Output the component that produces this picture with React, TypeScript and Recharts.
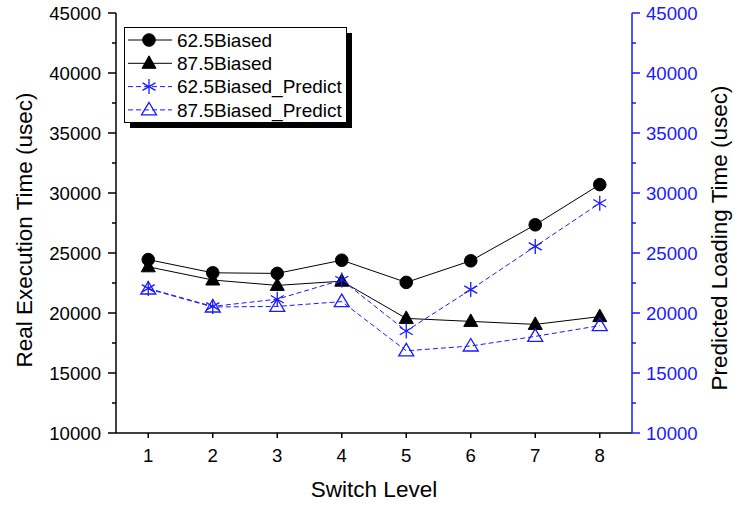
import React from 'react';
import { LineChart, Line, XAxis, YAxis, Legend } from 'recharts';

// Switch levels on the x axis
const levels = [1, 2, 3, 4, 5, 6, 7, 8];

// Measured execution times (usec)
const biased625 = [24450, 23350, 23300, 24400, 22550, 24350, 27350, 30700];
const biased875 = [23850, 22750, 22300, 22650, 19550, 19300, 19050, 19700];

// Predicted loading times (usec)
const predict625 = [22050, 20550, 21150, 22750, 18500, 21950, 25550, 29150];
const predict875 = [22000, 20500, 20550, 20950, 16850, 17250, 18050, 18950];

// Y axis ticks: labelled every 5000, minor marks every 2500
const yTicks = [10000, 12500, 15000, 17500, 20000, 22500, 25000, 27500, 30000, 32500, 35000, 37500, 40000, 42500, 45000];
const yLabelStep = 5000;

const seriesNames = ['62.5Biased', '87.5Biased', '62.5Biased_Predict', '87.5Biased_Predict'];

const data = levels.map((lv, i) => ({
  level: lv,
  b625: biased625[i],
  b875: biased875[i],
  p625: predict625[i],
  p875: predict875[i],
}));

const FONT = '"Liberation Sans", Arial, Helvetica, sans-serif';
const BLUE = '#1a1aff';
const TM = 10;
const TICK_FS = 18.6;
const TITLE_FS = 22.5;

// ---- markers ----
const Circle = ({ cx, cy }: any) => <circle cx={cx} cy={cy} r={6.3} fill="#000" stroke="#000" strokeWidth={1} />;
const FilledTri = ({ cx, cy }: any) => (
  <polygon points={`${cx},${cy - 7.5} ${cx - 7},${cy + 5} ${cx + 7},${cy + 5}`} fill="#000" stroke="#000" strokeWidth={1} />
);
const OpenTri = ({ cx, cy }: any) => (
  <polygon points={`${cx},${cy - 7.5} ${cx - 7.5},${cy + 5} ${cx + 7.5},${cy + 5}`} fill="none" stroke={BLUE} strokeWidth={1.3} />
);
const Star = ({ cx, cy }: any) => {
  const r = 7.5;
  const dx = r * Math.cos(Math.PI / 6);
  const dy = r * Math.sin(Math.PI / 6);
  return (
    <g stroke={BLUE} strokeWidth={1.3}>
      <line x1={cx} y1={cy - r} x2={cx} y2={cy + r} />
      <line x1={cx - dx} y1={cy - dy} x2={cx + dx} y2={cy + dy} />
      <line x1={cx - dx} y1={cy + dy} x2={cx + dx} y2={cy - dy} />
    </g>
  );
};

const dotFn = (M: any) => (p: any) => <M key={`${p.dataKey}-${p.index}`} cx={p.cx} cy={p.cy} />;

// ---- axis ticks ----
const LeftTick = (p: any) => {
  const ax = p.x + TM;
  const major = p.payload.value % yLabelStep === 0;
  return (
    <g>
      <line x1={ax} x2={ax - (major ? 8 : 4)} y1={p.y} y2={p.y} stroke="#000" strokeWidth={1.5} />
      {major && (
        <text x={ax - 15} y={p.y} dy="0.36em" textAnchor="end" fontSize={TICK_FS} fontFamily={FONT} fill="#000">
          {p.payload.value}
        </text>
      )}
    </g>
  );
};

const RightTick = (p: any) => {
  const ax = p.x - TM;
  const major = p.payload.value % yLabelStep === 0;
  return (
    <g>
      <line x1={ax} x2={ax + (major ? 8 : 4)} y1={p.y} y2={p.y} stroke={BLUE} strokeWidth={1.5} />
      {major && (
        <text x={ax + 14} y={p.y} dy="0.36em" textAnchor="start" fontSize={TICK_FS} fontFamily={FONT} fill={BLUE}>
          {p.payload.value}
        </text>
      )}
    </g>
  );
};

const BottomTick = (p: any) => {
  const ay = p.y - TM;
  return (
    <g>
      <line x1={p.x} x2={p.x} y1={ay} y2={ay + 5} stroke="#000" strokeWidth={1.5} />
      <text x={p.x} y={ay + 22} dy="0.36em" textAnchor="middle" fontSize={TICK_FS} fontFamily={FONT} fill="#000">
        {p.payload.value}
      </text>
    </g>
  );
};

const TopTick = (p: any) => {
  const ay = p.y + TM;
  return <line x1={p.x} x2={p.x} y1={ay} y2={ay + 5} stroke="#000" strokeWidth={1.5} />;
};

// ---- legend ----
const legendMarkers = [Circle, FilledTri, Star, OpenTri];
const legendColors = ['#000', '#000', BLUE, BLUE];
const legendDash = [undefined, undefined, '5 3', '5 3'];

const LegendBox = () => (
  <svg width={232} height={106} style={{ display: 'block' }}>
    <rect x={6} y={6} width={222} height={95} fill="#000" />
    <rect x={0.5} y={0.5} width={222} height={95} fill="#fff" stroke="#000" strokeWidth={1} />
    {seriesNames.map((name, i) => {
      const y = 13 + i * 23.3;
      const M = legendMarkers[i];
      return (
        <g key={name}>
          <line x1={4} x2={48} y1={y} y2={y} stroke={legendColors[i]} strokeWidth={1} strokeDasharray={legendDash[i]} />
          <M cx={25} cy={y} />
          <text x={53} y={y} dy="0.36em" fontSize={19} fontFamily={FONT} fill="#000">
            {name}
          </text>
        </g>
      );
    })}
  </svg>
);

export default function App() {
  return (
    <div style={{ position: 'absolute', left: 0, top: 0, width: 733, height: 505, background: '#fff' }}>
      <LineChart width={733} height={505} data={data} margin={{ top: 13, right: 0, bottom: 0, left: 0 }}>
        <XAxis
          xAxisId="bottom"
          dataKey="level"
          type="number"
          domain={[0.5, 8.5]}
          ticks={levels}
          interval={0}
          height={72}
          tickSize={0}
          tickMargin={TM}
          tick={<BottomTick />}
          axisLine={{ stroke: '#000', strokeWidth: 1.5 }}
          label={{
            content: ({ viewBox }: any) => (
              <text x={viewBox.x + viewBox.width / 2} y={489} dy="0.36em" textAnchor="middle" fontSize={TITLE_FS} fontFamily={FONT} fill="#000">
                Switch Level
              </text>
            ),
          }}
        />
        <XAxis
          xAxisId="top"
          orientation="top"
          dataKey="level"
          type="number"
          domain={[0.5, 8.5]}
          ticks={levels}
          interval={0}
          height={0}
          tickSize={0}
          tickMargin={TM}
          tick={<TopTick />}
          axisLine={{ stroke: '#000', strokeWidth: 1.5 }}
        />
        <YAxis
          yAxisId="left"
          domain={[10000, 45000]}
          ticks={yTicks}
          interval={0}
          width={116}
          tickSize={0}
          tickMargin={TM}
          tick={<LeftTick />}
          axisLine={{ stroke: '#000', strokeWidth: 1.5 }}
          label={{
            content: ({ viewBox }: any) => (
              <text
                transform={`translate(${viewBox.x + 24},${viewBox.y + viewBox.height / 2 + 7}) rotate(-90)`}
                dy="0.36em"
                textAnchor="middle"
                fontSize={TITLE_FS}
                fontFamily={FONT}
                fill="#000"
              >
                Real Execution Time (usec)
              </text>
            ),
          }}
        />
        <YAxis
          yAxisId="right"
          orientation="right"
          domain={[10000, 45000]}
          ticks={yTicks}
          interval={0}
          width={101}
          tickSize={0}
          tickMargin={TM}
          tick={<RightTick />}
          axisLine={{ stroke: BLUE, strokeWidth: 1.5 }}
          label={{
            content: ({ viewBox }: any) => (
              <text
                transform={`translate(${viewBox.x + 87},${viewBox.y + viewBox.height / 2 + 15}) rotate(-90)`}
                dy="0.36em"
                textAnchor="middle"
                fontSize={TITLE_FS}
                fontFamily={FONT}
                fill="#000"
              >
                Predicted Loading Time (usec)
              </text>
            ),
          }}
        />
        <Legend
          layout="horizontal"
          verticalAlign="middle"
          align="center"
          wrapperStyle={{ position: 'absolute', left: 124, top: 27, width: 232, height: 106 }}
          content={() => <LegendBox />}
        />
        <Line xAxisId="bottom" yAxisId="left" dataKey="b625" name={seriesNames[0]} stroke="#000" strokeWidth={1} dot={dotFn(Circle)} activeDot={false} isAnimationActive={false} />
        <Line xAxisId="bottom" yAxisId="left" dataKey="b875" name={seriesNames[1]} stroke="#000" strokeWidth={1} dot={dotFn(FilledTri)} activeDot={false} isAnimationActive={false} />
        <Line xAxisId="bottom" yAxisId="right" dataKey="p625" name={seriesNames[2]} stroke={BLUE} strokeWidth={1} strokeDasharray="5 3" dot={dotFn(Star)} activeDot={false} isAnimationActive={false} />
        <Line xAxisId="bottom" yAxisId="right" dataKey="p875" name={seriesNames[3]} stroke={BLUE} strokeWidth={1} strokeDasharray="5 3" dot={dotFn(OpenTri)} activeDot={false} isAnimationActive={false} />
      </LineChart>
    </div>
  );
}
